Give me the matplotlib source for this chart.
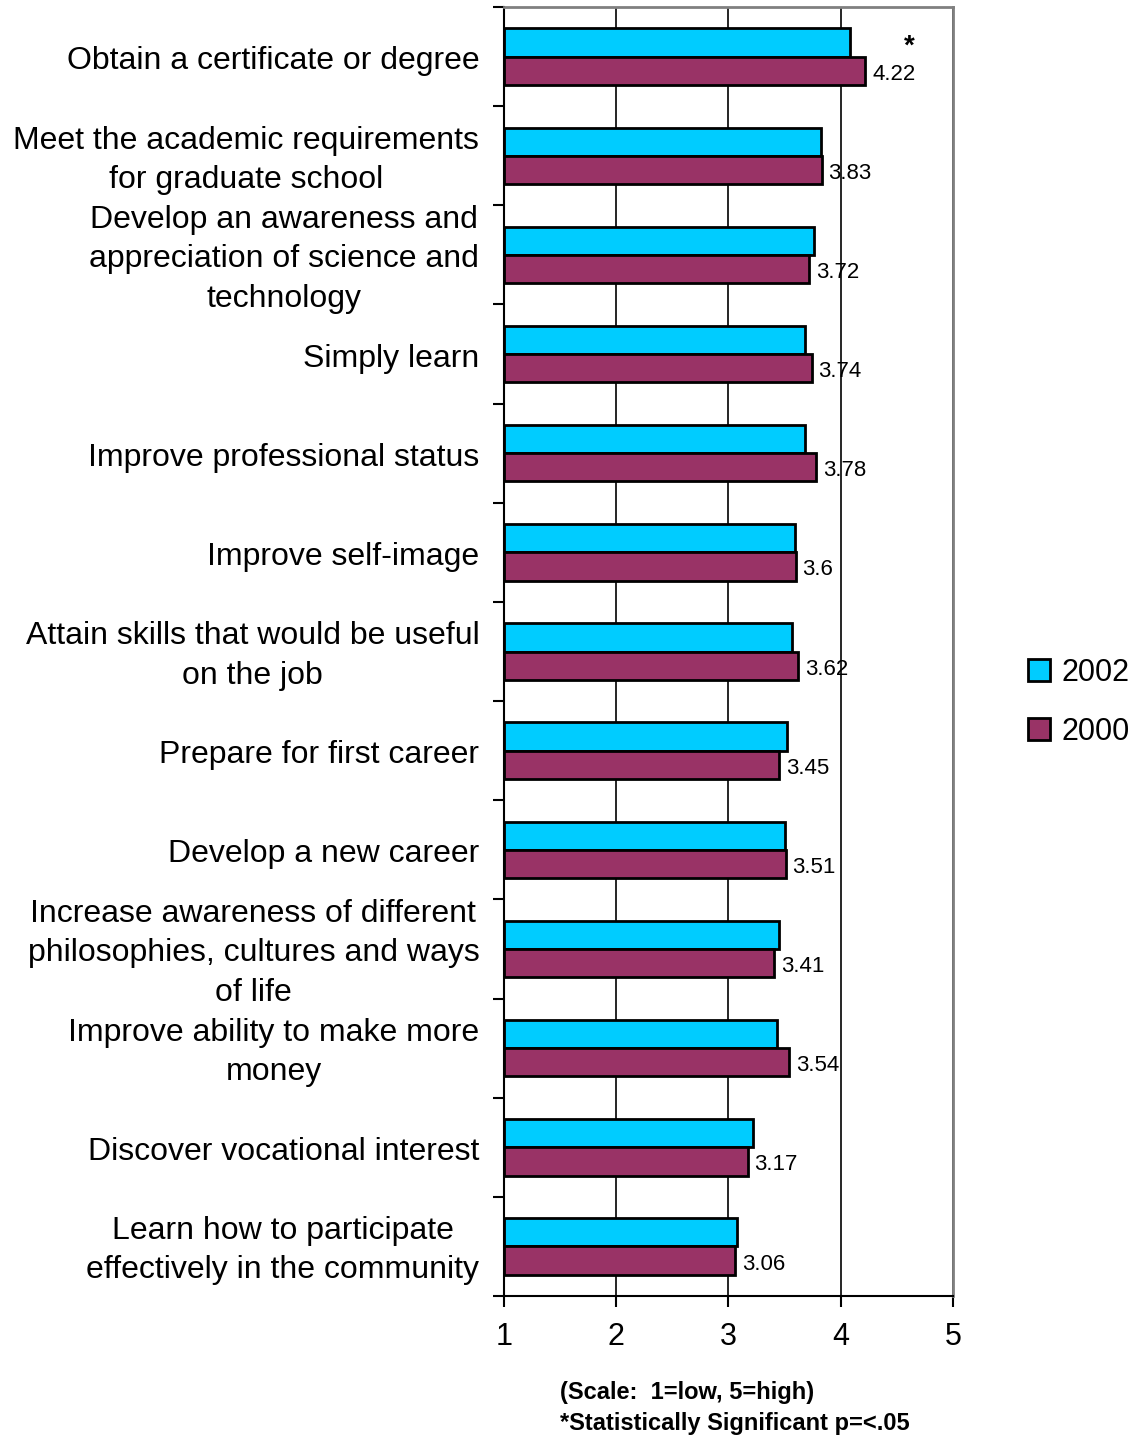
import matplotlib.pyplot as plt
import numpy as np

plt.rcParams['font.family'] = ['Liberation Sans', 'DejaVu Sans']

categories = [
    'Obtain a certificate or degree',
    'Meet the academic requirements\nfor graduate school',
    'Develop an awareness and\nappreciation of science and\ntechnology',
    'Simply learn',
    'Improve professional status',
    'Improve self-image',
    'Attain skills that would be useful\non the job',
    'Prepare for first career',
    'Develop a new career',
    'Increase awareness of different\nphilosophies, cultures and ways\nof life',
    'Improve ability to make more\nmoney',
    'Discover vocational interest',
    'Learn how to participate\neffectively in the community',
]
vals_2002 = [4.08, 3.82, 3.76, 3.68, 3.68, 3.59, 3.57, 3.52, 3.50, 3.45, 3.43, 3.22, 3.08]
vals_2000 = [4.22, 3.83, 3.72, 3.74, 3.78, 3.60, 3.62, 3.45, 3.51, 3.41, 3.54, 3.17, 3.06]
labels_2000 = ['4.22', '3.83', '3.72', '3.74', '3.78', '3.6', '3.62', '3.45', '3.51',
               '3.41', '3.54', '3.17', '3.06']
significant = [True] + [False] * 12

cyan = '#00CCFF'
purple = '#993366'

fig = plt.figure(figsize=(11.41, 14.36), dpi=100)
ax = fig.add_axes([0.4417, 0.0975, 0.3935, 0.8976])

n = len(categories)
y = np.arange(n)
h = 0.285
base = 1
ax.barh(y - h / 2, np.array(vals_2002) - base, left=base, height=h, color=cyan,
        edgecolor='black', linewidth=2, label='2002', zorder=3)
ax.barh(y + h / 2, np.array(vals_2000) - base, left=base, height=h, color=purple,
        edgecolor='black', linewidth=2, label='2000', zorder=3)

for i in range(n):
    ax.text(vals_2000[i] + 0.06, y[i] + h / 2 + 0.01, labels_2000[i], va='center_baseline',
            ha='left', fontsize=16, zorder=4)
    if significant[i]:
        ax.text(4.61, y[i] - h / 2 + 0.04, '*', va='center', ha='center', fontsize=20,
                fontweight='bold')

ax.set_xlim(1, 5)
ax.set_ylim(n - 0.5, -0.5)
ax.set_xticks([1, 2, 3, 4, 5])
ax.set_xticklabels(['1', '2', '3', '4', '5'], fontsize=22)
ax.tick_params(axis='x', length=8, width=1.5, pad=11)

ax.set_yticks(np.arange(-0.5, n, 1.0))
ax.set_yticklabels([])
ax.tick_params(axis='y', length=8, width=1.5, direction='out')
for i, c in enumerate(categories):
    ax.text(-0.055, y[i] + 0.045, c, transform=ax.get_yaxis_transform(), ha='right',
            va='center', multialignment='center', fontsize=23, linespacing=1.4)

ax.grid(axis='x', color='black', linewidth=1.2, zorder=0)
ax.set_axisbelow(True)
ax.spines['left'].set_linewidth(1.5)
ax.spines['bottom'].set_linewidth(1.5)
ax.spines['top'].set_color('gray')
ax.spines['right'].set_color('gray')
ax.spines['top'].set_linewidth(2)
ax.spines['right'].set_linewidth(2)

handles, labs = ax.get_legend_handles_labels()
fig.legend(handles, labs, loc='center left', bbox_to_anchor=(0.877, 0.511), frameon=False,
           fontsize=22, handlelength=0.7, handleheight=0.7, handletextpad=0.4,
           labelspacing=0.95)

fig.text(0.491, 0.0306, '(Scale:  1=low, 5=high)', fontsize=17, fontweight='bold',
         ha='left', va='center')
fig.text(0.491, 0.0084, '*Statistically Significant p=<.05', fontsize=17,
         fontweight='bold', ha='left', va='center')

fig.savefig('out.png', dpi=100)
